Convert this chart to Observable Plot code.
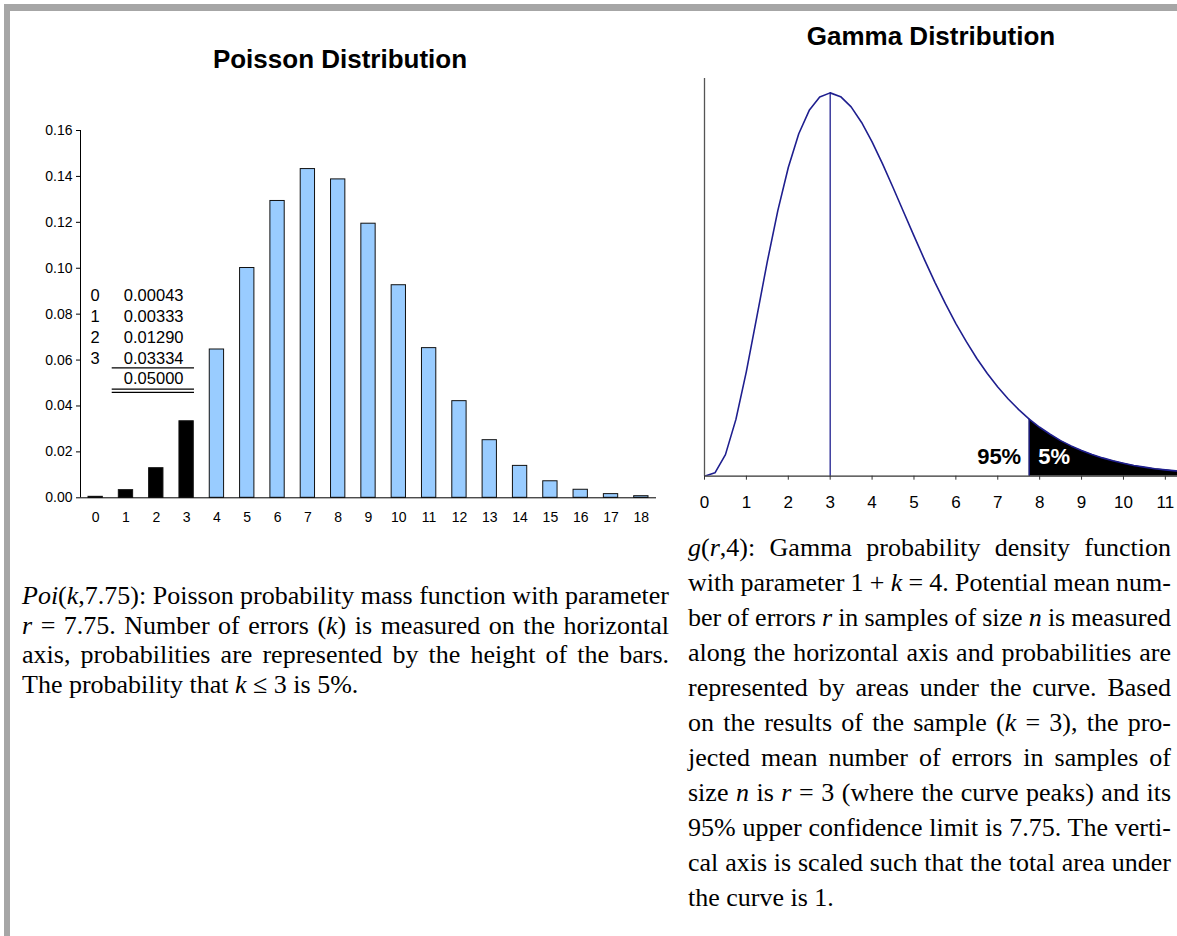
<!DOCTYPE html>
<html><head><meta charset="utf-8">
<script src="https://cdn.jsdelivr.net/npm/d3@7"></script>
<script src="https://cdn.jsdelivr.net/npm/@observablehq/plot@0.6"></script>
<style>
body{margin:0;background:#fff;}
#page{position:relative;width:1177px;height:936px;overflow:hidden;background:#fff;}
.bt{position:absolute;left:4px;top:4px;width:1173px;height:7px;background:#a6a6a6;}
.bl{position:absolute;left:4px;top:4px;width:6px;height:932px;background:#a6a6a6;}
.title{position:absolute;font-family:"Liberation Sans",Arial,sans-serif;font-weight:bold;font-size:26px;line-height:26px;white-space:nowrap;transform:translateX(-50%);color:#000;}
.cap{position:absolute;font-family:"Liberation Serif","Times New Roman",serif;color:#000;word-spacing:-3px;}
.cap div{text-align:justify;text-align-last:justify;}
.cap div.last{text-align:left;text-align-last:left;word-spacing:0;}
.plot{position:absolute;}
</style></head>
<body>
<div id="page">
  <div class="bt"></div><div class="bl"></div>
  <div class="title" style="left:340px;top:46px;">Poisson Distribution</div>
  <div class="title" style="left:931px;top:23px;">Gamma Distribution</div>
  <div id="leftplot" class="plot" style="left:0;top:100px;"></div>
  <div id="rightplot" class="plot" style="left:680px;top:60px;"></div>
  <div class="cap" style="left:22px;top:581px;width:647px;font-size:26px;line-height:29.5px;">
    <div><i>Poi</i>(<i>k</i>,7.75): Poisson probability mass function with parameter</div>
    <div><i>r</i> = 7.75. Number of errors (<i>k</i>) is measured on the horizontal</div>
    <div>axis, probabilities are represented by the height of the bars.</div>
    <div class="last">The probability that <i>k</i> ≤ 3 is 5%.</div>
  </div>
  <div class="cap" style="left:688px;top:530px;width:483px;font-size:26px;line-height:35px;">
    <div><i>g</i>(<i>r</i>,4): Gamma probability density function</div>
    <div>with parameter 1 + <i>k</i> = 4. Potential mean num-</div>
    <div>ber of errors <i>r</i> in samples of size <i>n</i> is measured</div>
    <div>along the horizontal axis and probabilities are</div>
    <div>represented by areas under the curve. Based</div>
    <div>on the results of the sample (<i>k</i> = 3), the pro-</div>
    <div>jected mean number of errors in samples of</div>
    <div>size <i>n</i> is <i>r</i> = 3 (where the curve peaks) and its</div>
    <div>95% upper confidence limit is 7.75. The verti-</div>
    <div>cal axis is scaled such that the total area under</div>
    <div class="last">the curve is 1.</div>
  </div>
</div>
<script>
// ---- Poisson data ----
const poissonK = [0,1,2,3,4,5,6,7,8,9,10,11,12,13,14,15,16,17,18];
const poissonP = [0.00043,0.00333,0.01290,0.03334,0.0646,0.1001,0.1293,0.1432,0.1387,0.1194,0.0926,0.0652,0.0421,0.0251,0.0139,0.0072,0.0035,0.0016,0.0007];
const poissonYTicks = [0,0.02,0.04,0.06,0.08,0.10,0.12,0.14,0.16];
const lowerTailMaxK = 3;
const tableK = ["0","1","2","3"];
const tableP = ["0.00043","0.00333","0.01290","0.03334"];
const tableTotal = "0.05000";

// ---- Gamma data ----
const gammaR = [0,0.25,0.5,0.75,1,1.25,1.5,1.75,2,2.25,2.5,2.75,3,3.25,3.5,3.75,4,4.25,4.5,4.75,5,5.25,5.5,5.75,6,6.25,6.5,6.75,7,7.25,7.5,7.75,8,8.25,8.5,8.75,9,9.25,9.5,9.75,10,10.25,10.5,10.75,11,11.25,11.5];
const gammaG = [0,0.0020,0.0126,0.0332,0.0613,0.0933,0.1255,0.1552,0.1804,0.2001,0.2138,0.2216,0.2240,0.2218,0.2158,0.2067,0.1954,0.1825,0.1687,0.1545,0.1404,0.1266,0.1133,0.1008,0.0892,0.0786,0.0688,0.0600,0.0521,0.0451,0.0389,0.0334,0.0286,0.0245,0.0208,0.0177,0.0150,0.0127,0.0107,0.0090,0.0076,0.0063,0.0053,0.0044,0.0037,0.0031,0.0026];
const gammaXTicks = [0,1,2,3,4,5,6,7,8,9,10,11];
const peakR = 3;
const limitR = 7.75;
const lowerLabel = "95%";
const upperLabel = "5%";

const poisson = poissonK.map((k, i) => ({k, p: poissonP[i]}));
const gamma = gammaR.map((r, i) => ({r, g: gammaG[i]}));
const tail = gamma.filter(d => d.r >= limitR);
const gPeak = gamma.find(d => d.r === peakR).g;
const gLimit = gamma.find(d => d.r === limitR).g;
const table = tableK.map((k, i) => ({k, p: tableP[i], i}));

const sans = "'Liberation Sans', Arial, sans-serif";

const left = Plot.plot({
  width: 680, height: 440,
  marginLeft: 80, marginRight: 24, marginTop: 30, marginBottom: 42.7,
  style: {fontFamily: sans, fontSize: "14px", color: "#000", background: "transparent", overflow: "visible"},
  x: {domain: [-0.5, 18.5], axis: null},
  y: {domain: [0, 0.16], axis: null},
  marks: [
    Plot.rectY(poisson, {x1: d => d.k - 0.5, x2: d => d.k + 0.5, y: "p", insetLeft: 8, insetRight: 8,
      fill: d => d.k <= lowerTailMaxK ? "#000000" : "#99ccff", stroke: "#111", strokeWidth: 1}),
    Plot.ruleX([-0.5], {stroke: "#000"}),
    Plot.ruleY([0], {stroke: "#000"}),
    Plot.axisY({ticks: poissonYTicks, tickFormat: d3.format(".2f"), tickSize: 4, tickPadding: 4, fontSize: 14, stroke: "#000", label: null}),
    Plot.axisX({ticks: poissonK, tickFormat: d => String(d), tickSize: 0, tickPadding: 14.5, fontSize: 14, label: null}),
    // summation table
    Plot.text(table, {x: () => -0.02, y: d => 0.0881 - d.i * 0.0092, text: "k", fontSize: 16.5, textAnchor: "middle"}),
    Plot.text(table, {x: () => 0.93, y: d => 0.0881 - d.i * 0.0092, text: "p", fontSize: 16.5, textAnchor: "start"}),
    Plot.text([tableTotal], {x: () => 0.93, y: () => 0.0518, text: d => d, fontSize: 16.5, textAnchor: "start"}),
    Plot.ruleY([0.0566, 0.0473, 0.0459], {x1: 0.546, x2: 3.26, stroke: "#000", strokeWidth: 1.3})
  ]
});
document.getElementById("leftplot").append(left);

const navy = "#1f1f8f";
const right = Plot.plot({
  width: 497, height: 470,
  marginLeft: 24, marginRight: 0, marginTop: 18, marginBottom: 54.3,
  style: {fontFamily: sans, fontSize: "17px", color: "#000", background: "transparent"},
  x: {domain: [0, 11.29], axis: null},
  y: {domain: [0, 0.2324], axis: null},
  marks: [
    Plot.areaY(tail, {x: "r", y: "g", fill: "#000", clip: true}),
    Plot.ruleX([peakR], {y1: () => 0, y2: () => gPeak, stroke: navy, strokeWidth: 1.3}),
    Plot.ruleX([limitR], {y1: () => 0, y2: () => gLimit, stroke: navy, strokeWidth: 1.3}),
    Plot.line(gamma, {x: "r", y: "g", stroke: navy, strokeWidth: 1.6, clip: true}),
    Plot.ruleX([0], {stroke: "#555", strokeWidth: 1.3}),
    Plot.ruleY([0], {stroke: "#333", strokeWidth: 1.3}),
    Plot.axisX({ticks: gammaXTicks, tickSize: 4, tickPadding: 16, fontSize: 17, stroke: "#333", label: null}),
    Plot.text([lowerLabel], {x: () => limitR, y: () => 0.011, text: d => d, textAnchor: "end", dx: -8, fontWeight: "bold", fontSize: 22, fill: "#000"}),
    Plot.text([upperLabel], {x: () => limitR, y: () => 0.011, text: d => d, textAnchor: "start", dx: 9, fontWeight: "bold", fontSize: 22, fill: "#fff"})
  ]
});
document.getElementById("rightplot").append(right);
</script>
</body></html>
